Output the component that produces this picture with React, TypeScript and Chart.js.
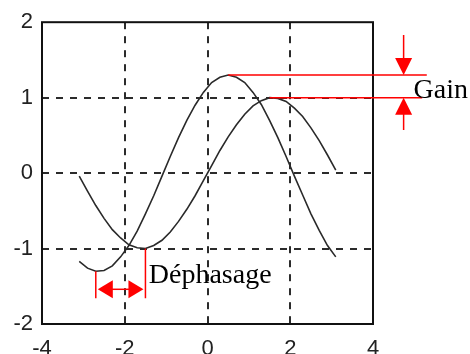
import { useEffect, useRef } from 'react';
import { Chart, registerables } from 'chart.js';

Chart.register(...registerables);

// Sample abscissae (radians)
const xValues = [
  -3.1, -2.9, -2.7, -2.5, -2.3, -2.1, -1.9, -1.7, -1.5, -1.3, -1.1, -0.9, -0.7, -0.5, -0.3, -0.1,
  0.1, 0.3, 0.5, 0.7, 0.9, 1.1, 1.3, 1.5, 1.7, 1.9, 2.1, 2.3, 2.5, 2.7, 2.9, 3.1,
];

// Reference signal (amplitude 1)
const signalIn = [
  -0.04, -0.24, -0.43, -0.6, -0.75, -0.86, -0.95, -0.99, -1.0, -0.96, -0.89, -0.78, -0.64, -0.48, -0.3, -0.1,
  0.1, 0.3, 0.48, 0.64, 0.78, 0.89, 0.96, 1.0, 0.99, 0.95, 0.86, 0.75, 0.6, 0.43, 0.24, 0.04,
];

// Output signal (amplified and phase-advanced)
const signalOut = [
  -1.17, -1.26, -1.3, -1.29, -1.23, -1.11, -0.96, -0.77, -0.54, -0.3, -0.04, 0.22, 0.47, 0.7, 0.9, 1.07,
  1.2, 1.27, 1.3, 1.27, 1.2, 1.07, 0.91, 0.7, 0.47, 0.22, -0.04, -0.29, -0.54, -0.76, -0.96, -1.11,
];

const xTicks = [-4, -2, 0, 2, 4];
const yTicks = [-2, -1, 0, 1, 2];

const gainLabel = 'Gain';
const phaseLabel = 'Déphasage';

// Annotation anchors, in axis units
const GAIN_UPPER_END = 5.3;
const GAIN_LOWER_END = 5.19;
const GAIN_ARROW_X = 4.74;
const GAIN_ARROW_TOP = 1.83;
const GAIN_ARROW_BOTTOM = 0.57;
const GAIN_LABEL_POS = { x: 4.98, y: 0.99 };
const PHASE_ARROW_Y = -1.54;
const PHASE_LINE_BOTTOM = -1.66;
const PHASE_LABEL_POS = { x: -1.42, y: -1.45 };

const RED = '#ff0000';

function argExtreme(values: number[], wantMax: boolean) {
  let best = 0;
  for (let i = 1; i < values.length; i++) {
    if (wantMax ? values[i] > values[best] : values[i] < values[best]) best = i;
  }
  return { x: xValues[best], y: values[best] };
}

const framePlugin = {
  id: 'frame',
  afterDraw(chart: any) {
    const { ctx, chartArea } = chart;
    ctx.save();
    ctx.strokeStyle = '#111';
    ctx.lineWidth = 2;
    ctx.strokeRect(chartArea.left, chartArea.top, chartArea.right - chartArea.left, chartArea.bottom - chartArea.top);
    ctx.restore();
  },
};

function arrowHead(ctx: CanvasRenderingContext2D, tipX: number, tipY: number, dx: number, dy: number, len: number, half: number) {
  // dx,dy: unit vector pointing from base towards tip
  const bx = tipX - dx * len;
  const by = tipY - dy * len;
  ctx.beginPath();
  ctx.moveTo(tipX, tipY);
  ctx.lineTo(bx - dy * half, by + dx * half);
  ctx.lineTo(bx + dy * half, by - dx * half);
  ctx.closePath();
  ctx.fill();
}

const annotationPlugin = {
  id: 'gainPhase',
  afterDraw(chart: any) {
    const { ctx } = chart;
    const xs = chart.scales.x;
    const ys = chart.scales.y;
    const px = (v: number) => xs.getPixelForValue(v);
    const py = (v: number) => ys.getPixelForValue(v);

    const peakOut = argExtreme(signalOut, true);
    const peakIn = argExtreme(signalIn, true);
    const troughOut = argExtreme(signalOut, false);
    const troughIn = argExtreme(signalIn, false);

    ctx.save();
    ctx.strokeStyle = RED;
    ctx.fillStyle = RED;
    ctx.lineWidth = 1.5;

    // Gain: horizontal lines at both peaks
    ctx.beginPath();
    ctx.moveTo(px(peakOut.x), py(peakOut.y));
    ctx.lineTo(px(GAIN_UPPER_END), py(peakOut.y));
    ctx.moveTo(px(peakIn.x), py(peakIn.y));
    ctx.lineTo(px(GAIN_LOWER_END), py(peakIn.y));
    ctx.stroke();

    // Gain: inward-pointing arrows
    const ax = px(GAIN_ARROW_X);
    ctx.beginPath();
    ctx.moveTo(ax, py(GAIN_ARROW_TOP));
    ctx.lineTo(ax, py(peakOut.y) - 10);
    ctx.moveTo(ax, py(GAIN_ARROW_BOTTOM));
    ctx.lineTo(ax, py(peakIn.y) + 10);
    ctx.stroke();
    arrowHead(ctx, ax, py(peakOut.y), 0, 1, 17, 8.5);
    arrowHead(ctx, ax, py(peakIn.y), 0, -1, 17, 8.5);

    // Phase shift: vertical markers from each trough
    const lx = px(troughOut.x);
    const rx = px(troughIn.x);
    ctx.beginPath();
    ctx.moveTo(lx, py(troughOut.y));
    ctx.lineTo(lx, py(PHASE_LINE_BOTTOM));
    ctx.moveTo(rx, py(troughIn.y));
    ctx.lineTo(rx, py(PHASE_LINE_BOTTOM));
    ctx.stroke();

    // Phase shift: double arrow
    const ay = py(PHASE_ARROW_Y);
    ctx.beginPath();
    ctx.moveTo(lx + 10, ay);
    ctx.lineTo(rx - 10, ay);
    ctx.stroke();
    arrowHead(ctx, lx + 2, ay, -1, 0, 15, 9);
    arrowHead(ctx, rx - 2, ay, 1, 0, 15, 9);

    // Labels
    ctx.fillStyle = '#000';
    ctx.font = '28px "Liberation Serif", "Times New Roman", serif';
    ctx.textAlign = 'left';
    ctx.textBaseline = 'alphabetic';
    ctx.fillText(gainLabel, px(GAIN_LABEL_POS.x), py(GAIN_LABEL_POS.y));
    ctx.fillText(phaseLabel, px(PHASE_LABEL_POS.x), py(PHASE_LABEL_POS.y));
    ctx.restore();
  },
};

export default function App() {
  const canvasRef = useRef<HTMLCanvasElement | null>(null);

  useEffect(() => {
    const canvas = canvasRef.current;
    if (!canvas) return;

    const gridColor = (c: any) =>
      c.tick && (c.tick.value === c.scale.min || c.tick.value === c.scale.max) ? 'rgba(0,0,0,0)' : '#2b2b2b';

    const tickFont = { family: '"Liberation Sans", Arial, sans-serif', size: 22 };

    const curveStyle = {
      borderColor: '#2a2a2a',
      borderWidth: 1.6,
      pointRadius: 0,
      tension: 0,
      fill: false,
    };

    const chart = new Chart(canvas, {
      type: 'line',
      data: {
        datasets: [
          { data: xValues.map((x, i) => ({ x, y: signalIn[i] })), ...curveStyle },
          { data: xValues.map((x, i) => ({ x, y: signalOut[i] })), ...curveStyle },
        ],
      },
      options: {
        animation: false,
        responsive: false,
        devicePixelRatio: 1,
        layout: { padding: { top: 22, right: 97, left: 0, bottom: 0 } },
        plugins: { legend: { display: false }, tooltip: { enabled: false } },
        scales: {
          x: {
            type: 'linear',
            position: 'bottom',
            min: -4,
            max: 4,
            afterBuildTicks: (s: any) => {
              s.ticks = xTicks.map((value) => ({ value }));
            },
            afterFit: (s: any) => {
              s.height = 30;
            },
            grid: { color: gridColor, lineWidth: 2, drawTicks: false },
            border: { display: false, dash: [7, 7] },
            ticks: { font: tickFont, color: '#222', padding: 12, maxRotation: 0, autoSkip: false },
          },
          y: {
            type: 'linear',
            min: -2,
            max: 2,
            afterBuildTicks: (s: any) => {
              s.ticks = yTicks.map((value) => ({ value }));
            },
            afterFit: (s: any) => {
              s.width = 42;
            },
            grid: { color: gridColor, lineWidth: 2, drawTicks: false },
            border: { display: false, dash: [7, 7] },
            ticks: { font: tickFont, color: '#222', padding: 9, autoSkip: false },
          },
        },
      },
      plugins: [framePlugin, annotationPlugin],
    } as any);

    return () => chart.destroy();
  }, []);

  return (
    <div style={{ position: 'fixed', left: 0, top: 0, width: 470, height: 354, background: '#fff' }}>
      <canvas ref={canvasRef} width={470} height={354} />
    </div>
  );
}
